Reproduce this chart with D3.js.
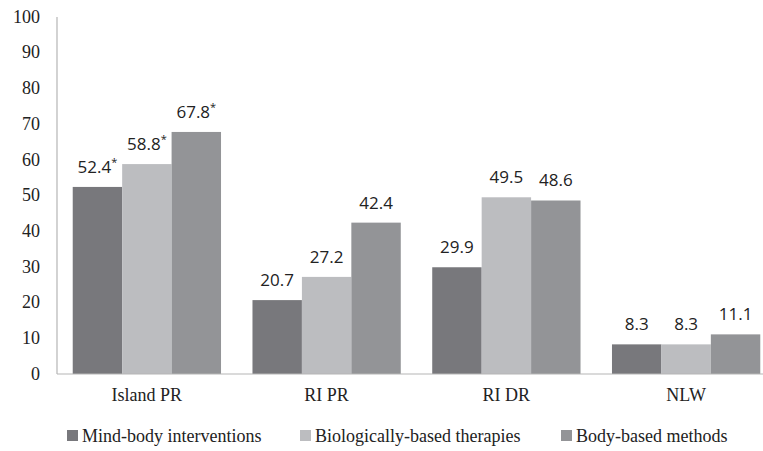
<!DOCTYPE html>
<html><head><meta charset="utf-8">
<script src="https://cdn.jsdelivr.net/npm/d3@7"></script>
</head><body style="margin:0">
<svg id="c" width="763" height="451"></svg>
<script>
const categories = ["Island PR", "RI PR", "RI DR", "NLW"];
const seriesNames = ["Mind-body interventions", "Biologically-based therapies", "Body-based methods"];
const mindBody = [52.4, 20.7, 29.9, 8.3];
const biological = [58.8, 27.2, 49.5, 8.3];
const bodyBased = [67.8, 42.4, 48.6, 11.1];
const significant = [[true, false, false, false], [true, false, false, false], [true, false, false, false]];
const yTicks = [0, 10, 20, 30, 40, 50, 60, 70, 80, 90, 100];
const colors = ["#78787c", "#bcbdc0", "#939497"];

const SERIF = "Liberation Serif";
const SANS = "Open Sans";
const series = [mindBody, biological, bodyBased];
const svg = d3.select("#c");
const x0 = d3.scaleBand().domain(categories).range([57, 776]).paddingInner(0.175).paddingOuter(0.0875);
const x1 = d3.scaleBand().domain(d3.range(3)).range([0, x0.bandwidth()]);
const y = d3.scaleLinear().domain([0, 100]).range([374, 17]);

// bars and value labels
categories.forEach((c, ci) => {
  series.forEach((s, si) => {
    svg.append("rect")
      .attr("x", x0(c) + x1(si)).attr("width", x1.bandwidth())
      .attr("y", y(s[ci])).attr("height", y(0) - y(s[ci]))
      .attr("fill", colors[si]);
    const t = svg.append("text")
      .attr("font-family", SANS).attr("font-size", 17)
      .attr("x", x0(c) + x1(si) + x1.bandwidth() / 2)
      .attr("y", y(s[ci]) - 14)
      .attr("text-anchor", "middle")
      .attr("fill", "#222")
      .text(s[ci].toFixed(1));
    if (significant[si][ci]) {
      t.append("tspan").attr("font-size", 11).attr("dy", -7).text("*");
    }
  });
});

// axis lines
const r = x0.range(), yr = y.range();
svg.append("line").attr("x1", r[0]).attr("x2", r[0]).attr("y1", yr[0]).attr("y2", yr[1])
  .attr("stroke", "#b5b5b5").attr("stroke-width", 1.2);
svg.append("line").attr("x1", r[0]).attr("x2", r[1]).attr("y1", y(0)).attr("y2", y(0))
  .attr("stroke", "#b5b5b5").attr("stroke-width", 1.2);

// y tick labels
yTicks.forEach(v => {
  svg.append("text").attr("font-family", SERIF).attr("font-size", 18)
    .attr("x", r[0] - 17).attr("y", y(v)).attr("dy", "0.32em")
    .attr("text-anchor", "end").attr("fill", "#222").text(v);
});

// category labels
categories.forEach(c => {
  svg.append("text").attr("font-family", SERIF).attr("font-size", 18)
    .attr("x", x0(c) + x0.bandwidth() / 2).attr("y", y(0) + 27)
    .attr("text-anchor", "middle").attr("fill", "#222").text(c);
});

// legend
const legX = [67, 300, 561];
seriesNames.forEach((n, i) => {
  svg.append("rect").attr("x", legX[i]).attr("y", 430).attr("width", 11).attr("height", 11).attr("fill", colors[i]);
  svg.append("text").attr("font-family", SERIF).attr("font-size", 18)
    .attr("x", legX[i] + 15).attr("y", 442)
    .attr("fill", "#222")
    .text(n);
});
</script>
</body></html>
